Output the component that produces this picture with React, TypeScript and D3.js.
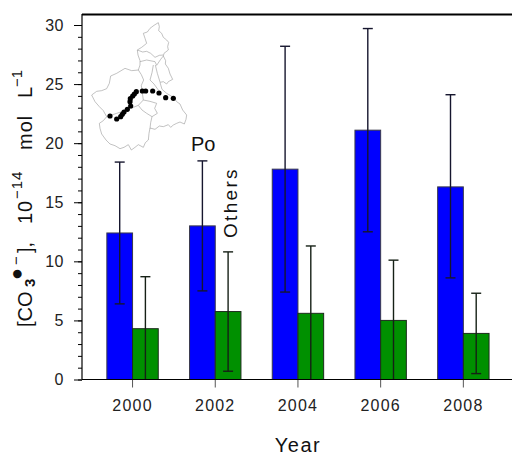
import * as React from "react";
import { axisBottom, axisLeft, range, scaleBand, scaleLinear, select, line, curveLinear } from "d3";

const years = ["2000", "2002", "2004", "2006", "2008"];
const poValues = [12.4, 13.0, 17.8, 21.1, 16.3];
const poUpper = [18.4, 18.5, 28.2, 29.7, 24.1];
const poLower = [6.4, 7.5, 7.4, 12.5, 8.6];
const otherValues = [4.3, 5.75, 5.6, 5.0, 3.9];
const otherUpper = [8.7, 10.8, 11.3, 10.1, 7.3];
const otherLower = [0, 0.7, 0, 0, 0.5];
const yTicks = [0, 5, 10, 15, 20, 25, 30];

// inset map, in its own units
const mapOutline: [number, number][] = [
  [475, 68], [478, 80], [476, 92], [485, 100], [490, 112], [500, 120], [506, 127], [503, 140], [505, 150], [492, 160], [490, 168],
  [497, 182], [496, 192], [505, 205], [510, 222], [518, 238], [505, 245], [500, 252], [490, 245], [480, 247], [486, 268], [500, 280],
  [520, 292], [530, 305], [540, 312], [548, 330], [560, 345], [558, 358], [553, 372], [540, 366], [530, 370], [520, 375], [512, 382],
  [505, 374], [490, 380], [478, 378], [465, 388], [450, 384], [447, 400], [445, 420], [436, 428], [430, 442], [415, 434], [405, 442],
  [394, 450], [385, 434], [372, 442], [360, 446], [345, 437], [330, 432], [318, 420], [305, 402], [300, 385], [298, 370], [310, 362],
  [320, 350], [310, 332], [298, 320], [285, 305], [275, 285], [290, 274], [305, 272], [320, 266], [328, 250], [332, 228], [350, 220],
  [375, 205], [395, 212], [415, 210], [420, 195], [420, 182], [414, 165], [412, 150], [425, 142], [440, 130], [435, 115], [430, 100],
  [442, 96], [450, 85], [462, 76], [475, 68],
];
const mapBorders: [number, number][][] = [
  [[412, 150], [428, 156], [440, 154], [452, 160], [465, 172], [478, 166], [490, 165]],
  [[420, 185], [440, 180], [465, 185], [470, 196], [482, 178], [490, 168]],
  [[466, 195], [472, 220], [480, 246]],
  [[415, 210], [424, 224], [431, 240], [424, 256], [426, 272], [430, 300], [415, 316], [400, 322], [388, 326], [368, 334], [350, 340], [320, 350]],
  [[460, 195], [456, 218], [450, 240], [462, 252], [475, 270]],
  [[415, 316], [426, 330], [440, 340], [456, 350], [452, 368], [450, 385]],
  [[430, 300], [450, 304], [470, 310], [464, 325], [472, 340], [456, 350]],
];
const riverStations: [number, number][] = [
  [330, 348], [350, 357], [362, 350], [367, 343], [372, 336], [382, 328], [392, 318], [390, 305], [391, 296], [398, 288], [403, 282], [409, 275],
  [427, 273], [437, 273], [458, 273], [477, 279], [497, 293], [520, 295],
];

const fontFamily = "'Liberation Sans', Arial, sans-serif";
const barDark = "#3a3a4a";

const App = () => {
  const leftAxis = React.useRef<SVGGElement>(null);
  const leftMinor = React.useRef<SVGGElement>(null);
  const bottomAxis = React.useRef<SVGGElement>(null);

  const x = scaleBand().domain(years).range([91.2, 504.7]);
  const bar = 25.7;
  const y = scaleLinear().domain([0, 30]).range([379.5, 25]);
  const mapX = scaleLinear().domain([0, 3]).range([0, 1]);
  const mapY = scaleLinear().domain([0, 3]).range([0, 1]);
  const mapLine = line().x((d) => mapX(d[0])).y((d) => mapY(d[1])).curve(curveLinear);

  React.useEffect(() => {
    const l = select(leftAxis.current!);
    l.call(axisLeft(y).tickValues(yTicks).tickSize(8).tickPadding(10) as any);
    l.select(".domain").remove();
    l.selectAll("text").attr("font-size", 16).attr("font-family", fontFamily).attr("letter-spacing", 0.5).attr("fill", "#222");
    const m = select(leftMinor.current!);
    m.call(axisLeft(y).tickValues(range(0, 31)).tickSize(4).tickFormat(() => "") as any);
    m.select(".domain").remove();
    const b = select(bottomAxis.current!);
    b.call(axisBottom(x).tickSize(8).tickPadding(12) as any);
    b.select(".domain").remove();
    b.selectAll("line").attr("stroke", "#555");
    b.selectAll("text").attr("font-size", 16).attr("font-family", fontFamily).attr("letter-spacing", 1.2).attr("fill", "#222");
  }, []);

  const errorBar = (cx: number, top: number, bottom: number, key: string, stroke: string) => (
    <g key={key} stroke={stroke} strokeWidth={1.4}>
      <line x1={cx} x2={cx} y1={y(top)} y2={y(bottom)} />
      <line x1={cx - 5} x2={cx + 5} y1={y(top)} y2={y(top)} />
      {bottom > 0 && <line x1={cx - 5} x2={cx + 5} y1={y(bottom)} y2={y(bottom)} />}
    </g>
  );

  return (
    <svg width={512} height={456} style={{ position: "absolute", left: 0, top: 0, background: "#fff" }}>
      <g>
        <path d={mapLine(mapOutline) ?? ""} fill="none" stroke="#999" strokeWidth={0.6} />
        {mapBorders.map((b, i) => (
          <path key={i} d={mapLine(b) ?? ""} fill="none" stroke="#999" strokeWidth={0.6} />
        ))}
        {riverStations.map((d, i) => (
          <circle key={i} cx={mapX(d[0])} cy={mapY(d[1])} r={2.6} fill="#000" />
        ))}
      </g>

      {years.map((yr, i) => {
        const c = x(yr)! + x.bandwidth() / 2;
        return (
          <g key={yr}>
            <rect x={c - bar} y={y(poValues[i])} width={bar} height={y(0) - y(poValues[i])} fill="#0000ff" stroke={barDark} strokeWidth={1} />
            <rect x={c} y={y(otherValues[i])} width={bar} height={y(0) - y(otherValues[i])} fill="#009000" stroke="#1c2c1c" strokeWidth={1} />
            {errorBar(c - bar / 2, poUpper[i], poLower[i], `p${yr}`, "#16162e")}
            {errorBar(c + bar / 2, otherUpper[i], otherLower[i], `o${yr}`, "#162016")}
          </g>
        );
      })}

      <g ref={leftMinor} transform="translate(82,0)" />
      <g ref={leftAxis} transform="translate(82,0)" />
      <g ref={bottomAxis} transform="translate(0,379.5)" />
      <line x1={82} x2={82} y1={14} y2={379.5} stroke="#000" strokeWidth={1.2} />
      <line x1={82} x2={512} y1={14.5} y2={14.5} stroke="#000" strokeWidth={2} />
      <line x1={82} x2={512} y1={379.5} y2={379.5} stroke="#000" strokeWidth={1.2} />

      <text x={191} y={151} fontFamily={fontFamily} fontSize={20} fill="#111">Po</text>
      <text transform="translate(237,238) rotate(-90)" fontFamily={fontFamily} fontSize={19} letterSpacing={2.3} fill="#111">Others</text>
      <text x={298} y={452} textAnchor="middle" fontFamily={fontFamily} fontSize={20} letterSpacing={1.5} fill="#111">Year</text>
      <g fontFamily={fontFamily} fill="#111" fontSize={20}>
        <text transform="translate(32,327) rotate(-90)">[CO</text>
        <text transform="translate(35,287) rotate(-90)" fontSize={15} fontWeight="bold">3</text>
        <text transform="translate(22.5,280) rotate(-90)" fontSize={20}>●</text>
        <text transform="translate(21,265) rotate(-90)" fontSize={15}>−</text>
        <text transform="translate(32,253) rotate(-90)">],</text>
        <text transform="translate(32,224) rotate(-90)" letterSpacing={1}>10</text>
        <text transform="translate(22,199) rotate(-90)" fontSize={15} letterSpacing={1}>−14</text>
        <text transform="translate(32,150) rotate(-90)" letterSpacing={1}>mol</text>
        <text transform="translate(32,98) rotate(-90)">L</text>
        <text transform="translate(22,87) rotate(-90)" fontSize={15}>−1</text>
      </g>
    </svg>
  );
};

export default App;
